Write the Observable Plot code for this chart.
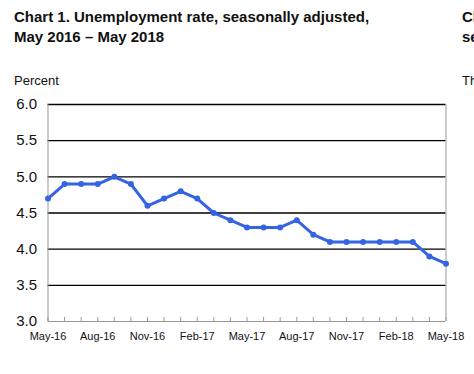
<!DOCTYPE html>
<html>
<head>
<meta charset="utf-8">
<script src="https://cdn.jsdelivr.net/npm/d3@7"></script>
<script src="https://cdn.jsdelivr.net/npm/@observablehq/plot@0.6"></script>
<style>
  html, body { margin: 0; padding: 0; background: #fff; }
  body { width: 474px; height: 374px; overflow: hidden; position: relative; font-family: "Liberation Sans", Arial, sans-serif; color: #111; }
  #head { position: relative; height: 90px; }
  .title { position: absolute; left: 14px; top: 7px; font-weight: bold; font-size: 15px; line-height: 20px; white-space: nowrap; }
  .unit { position: absolute; left: 14px; top: 73px; font-size: 13px; }
  .next1 { position: absolute; left: 462px; top: 7px; font-weight: bold; font-size: 15px; line-height: 20px; white-space: nowrap; }
  .next2 { position: absolute; left: 462px; top: 73px; font-size: 13px; white-space: nowrap; }
  #chart svg { display: block; }
</style>
</head>
<body>
<div id="head">
  <div class="title">Chart 1. Unemployment rate, seasonally adjusted,<br>May 2016 – May 2018</div>
  <div class="unit">Percent</div>
  <div class="next1">Chart 2.<br>seasonally</div>
  <div class="next2">Thousands</div>
</div>
<div id="chart"></div>
<script>
// Month categories (May 2016 – May 2018)
const months = ["May-16","Jun-16","Jul-16","Aug-16","Sep-16","Oct-16","Nov-16","Dec-16",
  "Jan-17","Feb-17","Mar-17","Apr-17","May-17","Jun-17","Jul-17","Aug-17","Sep-17","Oct-17",
  "Nov-17","Dec-17","Jan-18","Feb-18","Mar-18","Apr-18","May-18"];
// Unemployment rate, percent
const rates = [4.7,4.9,4.9,4.9,5.0,4.9,4.6,4.7,4.8,4.7,4.5,4.4,4.3,4.3,4.3,4.4,4.2,4.1,4.1,4.1,4.1,4.1,4.1,3.9,3.8];
// Axis tick labels
const xTickLabels = ["May-16","Aug-16","Nov-16","Feb-17","May-17","Aug-17","Nov-17","Feb-18","May-18"];
const yTicks = [3.0,3.5,4.0,4.5,5.0,5.5,6.0];

const data = months.map((m, i) => ({month: m, rate: rates[i]}));
const lineColor = "#3464e2";

const chart = Plot.plot({
  width: 474,
  height: 284,
  marginTop: 14,
  marginBottom: 53,
  marginLeft: 47.5,
  marginRight: 28.5,
  style: {fontFamily: "'Liberation Sans', Arial, sans-serif", color: "#111", background: "#fff"},
  x: {type: "point", domain: months, padding: 0, round: false, label: null},
  y: {domain: [3, 6], label: null},
  marks: [
    Plot.gridY(yTicks.filter(d => d > 3), {stroke: "#000", strokeOpacity: 1, strokeWidth: 1.4}),
    Plot.ruleY([yTicks[0]], {stroke: "#9a9a9a", strokeWidth: 1}),
    Plot.ruleX([months[0], months[months.length - 1]], {stroke: "#9a9a9a", strokeWidth: 1}),
    Plot.axisX({ticks: months, tickSize: -4, tickFormat: () => "", stroke: "#9a9a9a", label: null}),
    Plot.axisX({ticks: xTickLabels, tickSize: 0, tickPadding: 11, fontSize: 11, label: null}),
    Plot.axisY({ticks: yTicks, tickSize: 0, tickPadding: 11, fontSize: 15, tickFormat: d => d.toFixed(1), label: null}),
    Plot.line(data, {x: "month", y: "rate", stroke: lineColor, strokeWidth: 3}),
    Plot.dot(data, {x: "month", y: "rate", fill: lineColor, r: 3})
  ]
});
document.getElementById("chart").append(chart);
</script>
</body>
</html>
